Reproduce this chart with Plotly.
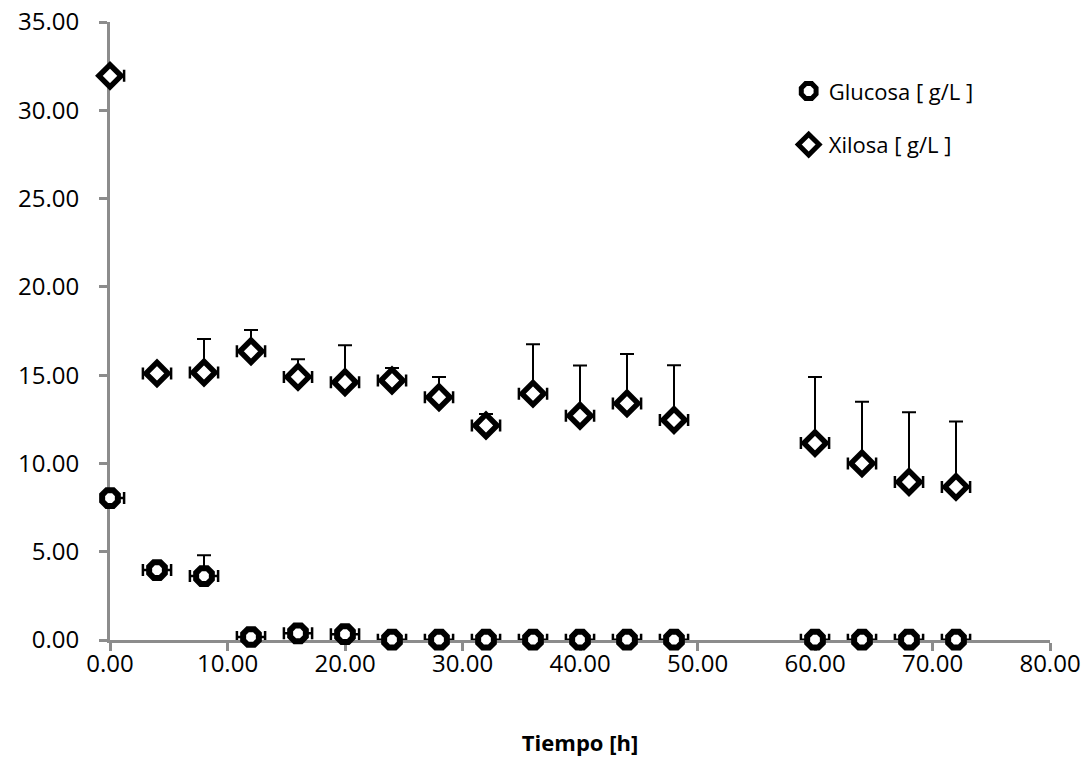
import plotly.graph_objects as go

tiempo = [0, 4, 8, 12, 16, 20, 24, 28, 32, 36, 40, 44, 48, 60, 64, 68, 72]

glucosa = [8.04, 3.96, 3.62, 0.17, 0.38, 0.33, 0.02, 0.02, 0.02, 0.02, 0.02, 0.02, 0.02, 0.02, 0.02, 0.02, 0.02]
glucosa_err = [0.0, 0.0, 1.18, 0.0, 0.0, 0.0, 0.0, 0.0, 0.0, 0.0, 0.0, 0.0, 0.0, 0.0, 0.0, 0.0, 0.0]

xilosa = [31.95, 15.1, 15.15, 16.35, 14.9, 14.6, 14.7, 13.75, 12.15, 13.95, 12.7, 13.4, 12.46, 11.15, 10.0, 8.95, 8.67]
xilosa_err = [0.0, 0.0, 1.9, 1.2, 1.0, 2.1, 0.7, 1.15, 0.65, 2.8, 2.85, 2.8, 3.1, 3.75, 3.5, 3.95, 3.7]

tiempo_err = 1.2

x_ticks = [0, 10, 20, 30, 40, 50, 60, 70, 80]
y_ticks = [0, 5, 10, 15, 20, 25, 30, 35]

fig = go.Figure()

fig.add_trace(go.Scatter(
    x=tiempo, y=glucosa, mode="markers", name="Glucosa [ g/L ]",
    marker=dict(symbol="octagon", size=17, color="white", line=dict(color="black", width=6)),
    error_y=dict(type="data", symmetric=False, array=glucosa_err,
                 arrayminus=[0] * len(glucosa_err), color="black", thickness=2, width=7),
    error_x=dict(type="constant", value=tiempo_err, color="black", thickness=2.5, width=6),
    cliponaxis=False, legendgroup="g",
))

fig.add_trace(go.Scatter(
    x=tiempo, y=xilosa, mode="markers", name="Xilosa [ g/L ]",
    marker=dict(symbol="diamond", size=17, color="white", line=dict(color="black", width=5.5)),
    error_y=dict(type="data", symmetric=False, array=xilosa_err,
                 arrayminus=[0] * len(xilosa_err), color="black", thickness=2, width=7),
    error_x=dict(type="constant", value=tiempo_err, color="black", thickness=2.5, width=6),
    cliponaxis=False, legendgroup="x",
))

axis_font = dict(family="Open Sans, DejaVu Sans, sans-serif", size=24, color="black")

fig.update_layout(
    width=1088, height=764,
    margin=dict(l=110, r=38, t=22, b=124),
    plot_bgcolor="white", paper_bgcolor="white",
    showlegend=True,
    legend=dict(x=0.722, y=0.922, xanchor="left", yanchor="top",
                font=dict(family="Open Sans, DejaVu Sans, sans-serif", size=22, color="black"),
                bgcolor="rgba(0,0,0,0)", tracegroupgap=22, traceorder="grouped",
                itemsizing="trace", itemwidth=30),
    xaxis=dict(range=[0, 80], tickvals=x_ticks, ticktext=[f"{v:.2f}" for v in x_ticks],
               showgrid=False, zeroline=False, showline=True, linecolor="#8c8c8c", linewidth=3,
               ticks="outside", ticklen=8, tickwidth=3, tickcolor="#8c8c8c",
               tickfont=axis_font, layer="below traces", automargin=False,
               ticklabelstandoff=-8,
               title=dict(text="<b>Tiempo [h]</b>", font=dict(family="Open Sans, DejaVu Sans, sans-serif", size=22, color="black"), standoff=58)),
    yaxis=dict(range=[0, 35], tickvals=y_ticks, ticktext=[f"{v:.2f}" for v in y_ticks],
               showgrid=False, zeroline=False, showline=True, linecolor="#8c8c8c", linewidth=3,
               ticks="outside", ticklen=8, tickwidth=3, tickcolor="#8c8c8c",
               tickfont=axis_font, layer="below traces", ticklabelstandoff=15, automargin=False),
)

fig.write_html("out.html")
